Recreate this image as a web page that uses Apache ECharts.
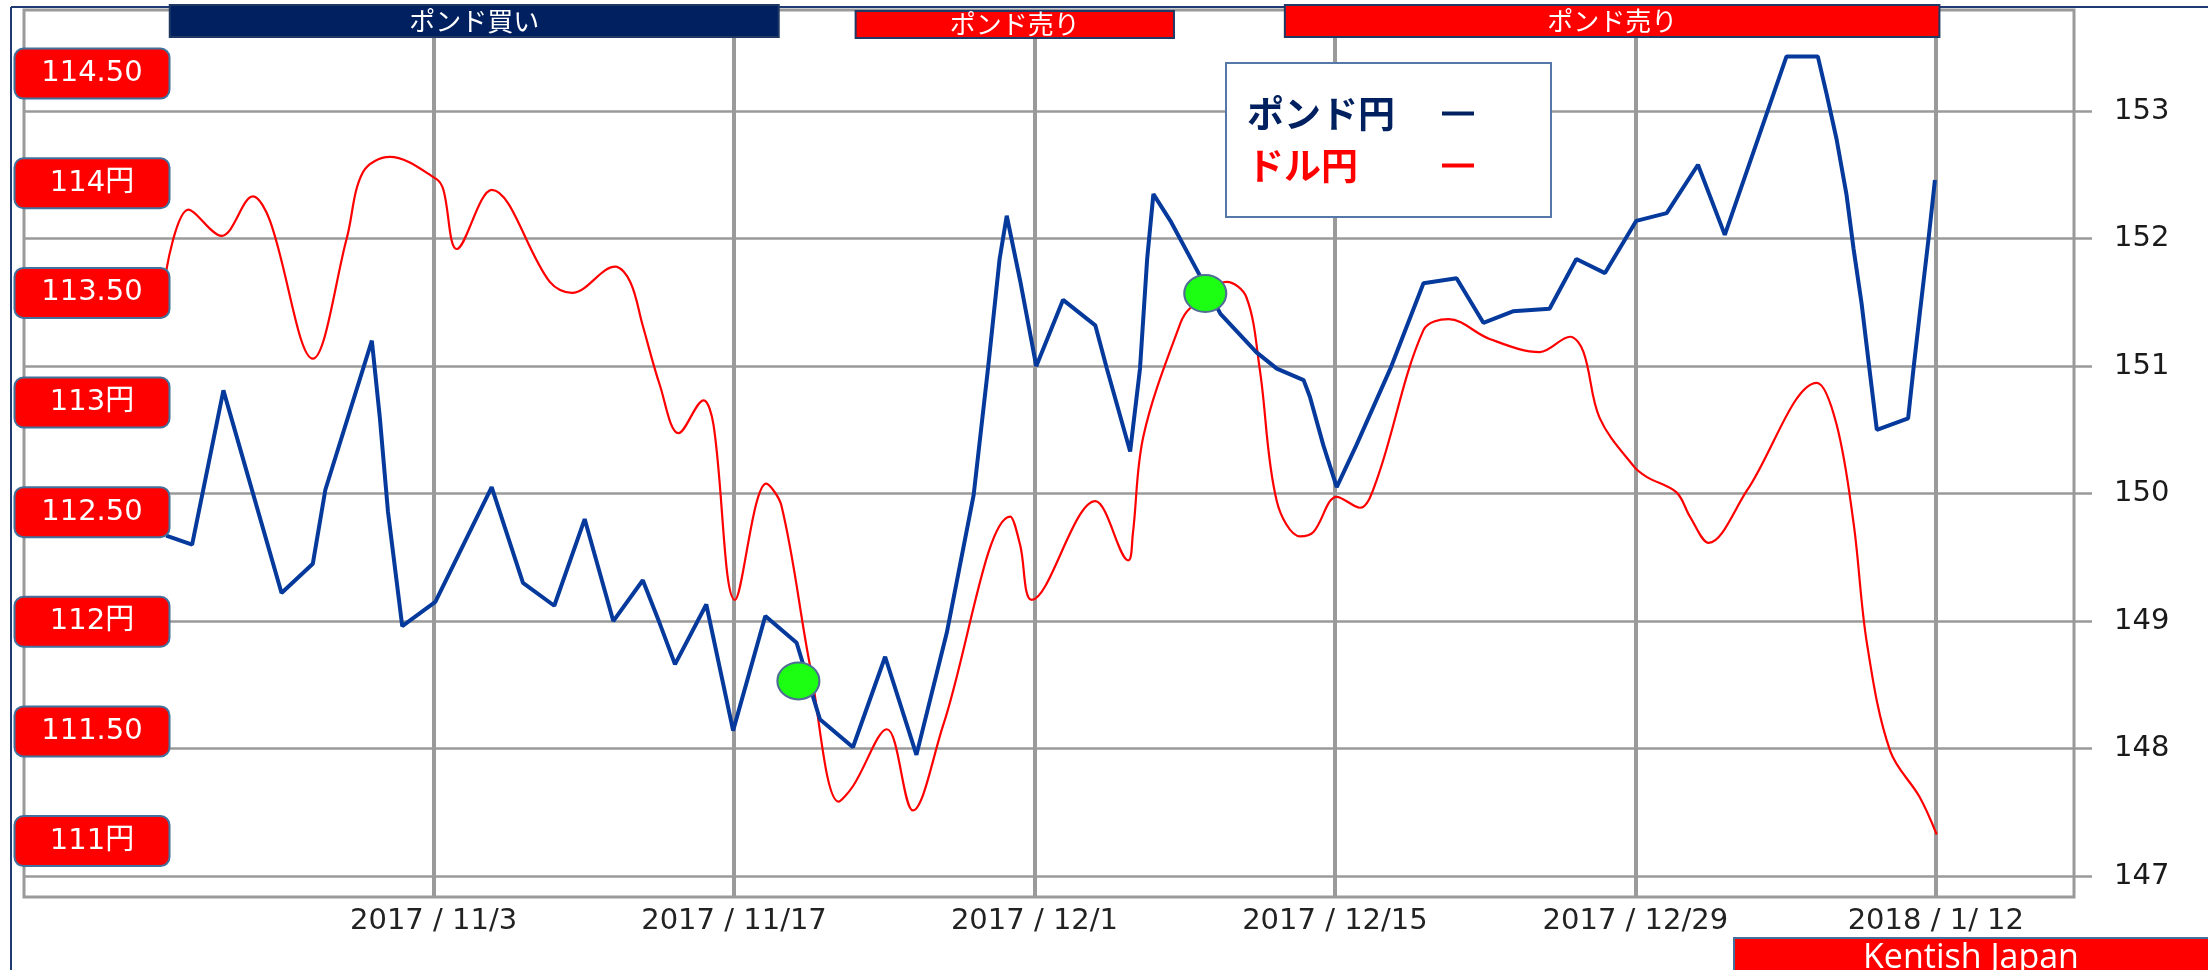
<!DOCTYPE html>
<html>
<head>
<meta charset="utf-8">
<script src="https://cdn.jsdelivr.net/npm/echarts@6/dist/echarts.min.js"></script>
<style>
html,body{margin:0;padding:0;background:#fff;}
#chart{width:2208px;height:970px;}
</style>
</head>
<body>
<div id="chart"></div>
<script>
// ---------- data ----------
const gbpDates = ['2017-10-21 13:00','2017-10-22 18:00','2017-10-24 05:00','2017-10-26 22:00','2017-10-28 09:00','2017-10-28 23:00','2017-10-31 03:00','2017-10-31 12:00','2017-10-31 21:00','2017-11-01 13:00','2017-11-03 02:00','2017-11-05 17:00','2017-11-07 04:00','2017-11-08 15:00','2017-11-10 01:00','2017-11-11 09:00','2017-11-12 18:00','2017-11-13 13:00','2017-11-14 06:00','2017-11-15 17:00','2017-11-16 23:00','2017-11-18 11:00','2017-11-19 22:00','2017-11-21 00:00','2017-11-22 13:00','2017-11-24 01:00','2017-11-25 12:00','2017-11-26 22:00','2017-11-28 04:00','2017-11-28 20:00','2017-11-29 09:00','2017-11-29 17:00','2017-11-30 08:00','2017-12-01 02:00','2017-12-02 08:00','2017-12-03 20:00','2017-12-04 09:00','2017-12-05 11:00','2017-12-05 22:00','2017-12-06 06:00','2017-12-06 13:00','2017-12-07 08:00','2017-12-08 17:00','2017-12-09 16:00','2017-12-11 08:00','2017-12-12 07:00','2017-12-13 13:00','2017-12-13 20:00','2017-12-14 11:00','2017-12-15 02:00','2017-12-16 00:00','2017-12-17 14:00','2017-12-19 03:00','2017-12-20 16:00','2017-12-21 22:00','2017-12-23 07:00','2017-12-25 00:00','2017-12-26 06:00','2017-12-27 14:00','2017-12-29 01:00','2017-12-30 11:00','2017-12-31 22:00','2018-01-02 04:00','2018-01-05 01:00','2018-01-06 12:00','2018-01-06 22:00','2018-01-07 09:00','2018-01-07 20:00','2018-01-08 04:00','2018-01-08 13:00','2018-01-08 21:00','2018-01-09 06:00','2018-01-10 17:00','2018-01-10 23:00','2018-01-11 06:00','2018-01-11 16:00','2018-01-11 23:00'];
const gbpValues = [149.67,149.60,150.81,149.22,149.45,150.03,151.20,150.59,149.86,148.96,149.15,150.05,149.30,149.12,149.80,149.00,149.32,148.98,148.66,149.13,148.14,149.04,148.83,148.23,148.01,148.72,147.95,148.91,149.99,150.98,151.84,152.18,151.67,151.00,151.52,151.32,150.98,150.33,150.98,151.84,152.35,152.14,151.71,151.41,151.11,150.98,150.89,150.76,150.38,150.05,150.38,150.98,151.65,151.69,151.34,151.43,151.45,151.84,151.73,152.14,152.20,152.58,152.03,153.43,153.43,153.13,152.78,152.35,151.92,151.49,151.02,150.50,150.59,150.98,151.41,152.01,152.46];

const usdDates = ['2017-10-21 13:00','2017-10-22 14:00','2017-10-24 03:00','2017-10-25 14:00','2017-10-26 09:00','2017-10-28 09:00','2017-10-29 23:00','2017-10-30 17:00','2017-10-31 23:00','2017-11-03 03:00','2017-11-03 11:00','2017-11-04 02:00','2017-11-05 17:00','2017-11-08 10:00','2017-11-09 11:00','2017-11-11 11:00','2017-11-12 04:00','2017-11-12 18:00','2017-11-13 13:00','2017-11-14 10:00','2017-11-15 14:00','2017-11-16 01:00','2017-11-17 01:00','2017-11-18 12:00','2017-11-19 05:00','2017-11-20 13:00','2017-11-21 21:00','2017-11-22 13:00','2017-11-24 03:00','2017-11-25 08:00','2017-11-26 18:00','2017-11-29 21:00','2017-11-30 08:00','2017-11-30 21:00','2017-12-03 20:00','2017-12-05 09:00','2017-12-05 14:00','2017-12-06 02:00','2017-12-07 19:00','2017-12-08 06:00','2017-12-09 23:00','2017-12-10 21:00','2017-12-11 12:00','2017-12-12 07:00','2017-12-13 09:00','2017-12-14 00:00','2017-12-15 02:00','2017-12-16 04:00','2017-12-16 23:00','2017-12-19 03:00','2017-12-20 07:00','2017-12-22 05:00','2017-12-24 13:00','2017-12-25 23:00','2017-12-26 14:00','2017-12-27 08:00','2017-12-28 22:00','2017-12-29 13:00','2017-12-30 22:00','2017-12-31 13:00','2018-01-01 10:00','2018-01-03 05:00','2018-01-06 11:00','2018-01-07 09:00','2018-01-08 04:00','2018-01-08 19:00','2018-01-09 21:00','2018-01-11 06:00','2018-01-12 01:00'];
const usdValues = [113.60,113.88,113.76,113.94,113.83,113.20,113.75,114.05,114.12,114.02,113.97,113.70,113.97,113.55,113.50,113.62,113.55,113.35,113.08,112.86,113.01,112.90,112.10,112.63,112.53,111.80,111.18,111.25,111.51,111.14,111.53,112.48,112.35,112.10,112.55,112.28,112.40,112.85,113.36,113.43,113.55,113.48,113.15,112.55,112.39,112.41,112.57,112.52,112.65,113.33,113.38,113.29,113.23,113.30,113.23,112.93,112.71,112.66,112.59,112.48,112.36,112.60,113.09,112.90,112.45,111.90,111.41,111.20,111.03];

const xTickDates  = ['2017-11-03','2017-11-17','2017-12-01','2017-12-15','2017-12-29','2018-01-12'];
const xTickLabels = ['2017 / 11/3','2017 / 11/17','2017 / 12/1','2017 / 12/15','2017 / 12/29','2018 / 1/ 12'];
const xRange = ['2017-10-14 22:00','2018-01-18 10:30'];

const gbpTicks = [147,148,149,150,151,152,153];
const gbpRange = [146.835,153.794];
const usdTicks = [111,111.5,112,112.5,113,113.5,114,114.5];
const usdTickLabels = ['111円','111.50','112円','112.50','113円','113.50','114円','114.50'];
const usdRange = [110.745,114.79];

const seriesNames = ['ポンド円','ドル円'];

const bannerLabels = ['ポンド買い','ポンド売り','ポンド売り'];
const bannerStarts = ['2017-10-21 17:00','2017-11-22 16:00','2017-12-12 16:00'];
const bannerEnds   = ['2017-11-19 02:00','2017-12-07 12:00','2018-01-12 04:00'];

const signalDates  = ['2017-11-20 00:00','2017-12-08 23:00'];
const signalValues = [148.53,151.57];

// ---------- helpers ----------
const BASE = Date.UTC(2017,10,3);
function toDay(s){
  const parts = s.split(' ');
  const d = parts[0].split('-').map(Number);
  const t = (parts[1]||'00:00').split(':').map(Number);
  return (Date.UTC(d[0],d[1]-1,d[2],t[0],t[1]) - BASE)/86400000;
}
const xTickDays = xTickDates.map(toDay);
function pair(dates, vals){ return dates.map((d,i)=>[toDay(d), vals[i]]); }

const JP = '"Noto Sans CJK JP", sans-serif';
const NUM = '"DejaVu Sans", "Noto Sans CJK JP", sans-serif';
const GRAY = '#9a9a9a';
const NAVY = '#002060';
const BLUE = '#053A9C';
const RED = '#FF0000';

const chart = echarts.init(document.getElementById('chart'), null, {renderer:'canvas'});

const option = {
  animation:false,
  backgroundColor:'#ffffff',
  grid:{left:24, right:134, top:10, bottom:73, show:true, borderColor:GRAY, borderWidth:3, backgroundColor:'transparent'},
  legend:{
    orient:'vertical', left:1226, top:63, align:'right',
    padding:[32,77,33,21], itemGap:15, itemWidth:32, itemHeight:4, icon:'rect',
    backgroundColor:'#ffffff', borderColor:'#5479A8', borderWidth:2,
    selectedMode:false,
    data:seriesNames,
    formatter:function(name){ return name===seriesNames[0] ? '{p|'+name+'}' : '{d|'+name+'}'; },
    textStyle:{
      rich:{
        p:{width:190, align:'left', fontSize:37, fontWeight:'bold', color:NAVY, fontFamily:JP},
        d:{width:190, align:'left', fontSize:37, fontWeight:'bold', color:RED, fontFamily:JP}
      }
    }
  },
  xAxis:{
    type:'value', min:toDay(xRange[0]), max:toDay(xRange[1]),
    axisLine:{show:false},
    axisTick:{show:false, customValues:xTickDays},
    axisLabel:{
      customValues:xTickDays, margin:10, fontSize:29, color:'#222', fontFamily:NUM,
      formatter:function(v){ let best=0; for(let i=0;i<xTickDays.length;i++){ if(Math.abs(xTickDays[i]-v)<Math.abs(xTickDays[best]-v)) best=i; } return xTickLabels[best]; }
    },
    splitLine:{show:true, lineStyle:{color:GRAY, width:4}}
  },
  yAxis:[
    {
      type:'value', position:'left', min:usdRange[0], max:usdRange[1],
      axisLine:{show:false}, splitLine:{show:false},
      axisTick:{show:false, customValues:usdTicks},
      axisLabel:{
        customValues:usdTicks, inside:true, margin:68, align:'center', verticalAlign:'middle',
        width:153, height:48, lineHeight:48, padding:0,
        backgroundColor:RED, borderColor:'#41719C', borderWidth:2, borderRadius:8,
        color:'#ffffff', fontSize:29, fontFamily:NUM,
        formatter:function(v){ let best=0; for(let i=0;i<usdTicks.length;i++){ if(Math.abs(usdTicks[i]-v)<Math.abs(usdTicks[best]-v)) best=i; } return usdTickLabels[best]; }
      },
      z:5
    },
    {
      type:'value', position:'right', min:gbpRange[0], max:gbpRange[1],
      axisLine:{show:false},
      axisTick:{show:true, length:18, customValues:gbpTicks, lineStyle:{color:GRAY, width:2.5}},
      axisLabel:{customValues:gbpTicks, margin:40, fontSize:29, color:'#1a1a1a', fontFamily:NUM},
      splitLine:{show:true, lineStyle:{color:GRAY, width:2.5}}
    }
  ],
  series:[
    {
      name:seriesNames[1], type:'line', yAxisIndex:0, color:RED,
      data:pair(usdDates, usdValues), showSymbol:false, smooth:0.35,
      lineStyle:{color:RED, width:2.2}, itemStyle:{color:RED}, z:2
    },
    {
      name:seriesNames[0], type:'line', yAxisIndex:1, color:NAVY,
      data:pair(gbpDates, gbpValues), showSymbol:false, smooth:false,
      lineStyle:{color:BLUE, width:4}, itemStyle:{color:NAVY}, z:3,
      markPoint:{
        symbol:'circle', symbolSize:[42,37], silent:true,
        itemStyle:{color:'#1DFF12', borderColor:'#4F6D96', borderWidth:2},
        label:{show:false},
        data:signalDates.map((d,i)=>({coord:[toDay(d), signalValues[i]]}))
      }
    }
  ]
};
chart.setOption(option);

// banners above the plot placed through the x axis scale
const bannerStyles = [
  {fill:NAVY, top:5, bottom:37},
  {fill:RED, top:11, bottom:38},
  {fill:RED, top:5, bottom:37}
];
const graphics = [];
bannerLabels.forEach((lab,i)=>{
  const x1 = chart.convertToPixel({xAxisIndex:0}, toDay(bannerStarts[i]));
  const x2 = chart.convertToPixel({xAxisIndex:0}, toDay(bannerEnds[i]));
  const st = bannerStyles[i];
  graphics.push({type:'rect', z:100, shape:{x:x1, y:st.top, width:x2-x1, height:st.bottom-st.top},
    style:{fill:st.fill, stroke:'#1F3864', lineWidth:2}});
  graphics.push({type:'text', z:101, x:(x1+x2)/2, y:(st.top+st.bottom)/2,
    style:{text:lab, fill:'#ffffff', font:'26px '+JP, align:'center', verticalAlign:'middle'}});
});
// outer frame
graphics.push({type:'line', z:99, shape:{x1:11, y1:7, x2:2208, y2:7}, style:{stroke:'#203A72', lineWidth:2}});
graphics.push({type:'line', z:99, shape:{x1:11, y1:7, x2:11, y2:970}, style:{stroke:'#203A72', lineWidth:2}});
// credit box
graphics.push({type:'rect', z:100, shape:{x:1734, y:938, width:500, height:50},
  style:{fill:RED, stroke:'#41719C', lineWidth:2}});
graphics.push({type:'text', z:101, x:1971, y:941,
  style:{text:'Kentish Japan', fill:'#ffffff', font:'34px "Open Sans", sans-serif', align:'center', verticalAlign:'top'}});
chart.setOption({graphic:graphics});
</script>
</body>
</html>
